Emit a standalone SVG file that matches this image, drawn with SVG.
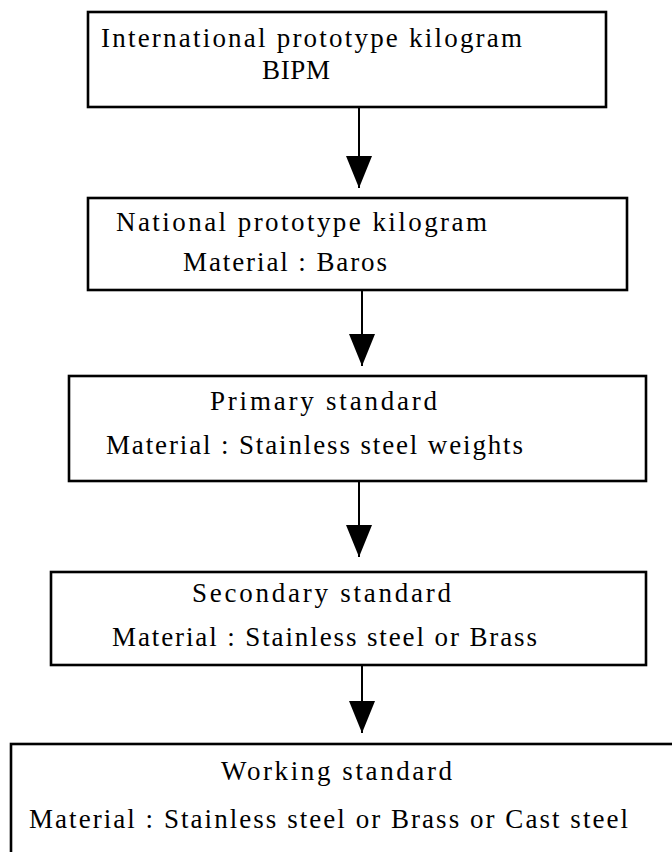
<svg xmlns="http://www.w3.org/2000/svg" width="672" height="852" viewBox="0 0 672 852">
  <style>
    .box { fill: #ffffff; stroke: #000000; stroke-width: 2.6; }
    .conn { stroke: #000000; stroke-width: 2; fill: none; }
    .t { font-family: "Liberation Serif", "Times New Roman", serif; font-size: 27px; fill: #000000; }
  </style>
  <defs>
    <marker id="arrow" markerUnits="userSpaceOnUse" markerWidth="32" markerHeight="26" refX="32" refY="13" orient="auto">
      <path d="M0,0 L32,13 L0,26 Z" fill="#000000"/>
    </marker>
  </defs>
  <rect x="0" y="0" width="672" height="852" fill="#ffffff"/>
  <g id="connectors">
    <line class="conn" x1="359" y1="107" x2="359" y2="188" marker-end="url(#arrow)"/>
    <line class="conn" x1="362" y1="290" x2="362" y2="366" marker-end="url(#arrow)"/>
    <line class="conn" x1="359" y1="481" x2="359" y2="557" marker-end="url(#arrow)"/>
    <line class="conn" x1="362" y1="665" x2="362" y2="733" marker-end="url(#arrow)"/>
  </g>
  <g id="node-international">
    <rect class="box" x="88" y="12" width="518" height="95"/>
    <text class="t" x="101" y="47" textLength="421" lengthAdjust="spacing">International prototype kilogram</text>
    <text class="t" x="262" y="79" textLength="68" lengthAdjust="spacing">BIPM</text>
  </g>
  <g id="node-national">
    <rect class="box" x="88" y="198" width="539" height="92"/>
    <text class="t" x="116" y="231" textLength="371" lengthAdjust="spacing">National prototype kilogram</text>
    <text class="t" x="183" y="271" textLength="204" lengthAdjust="spacing">Material : Baros</text>
  </g>
  <g id="node-primary">
    <rect class="box" x="69" y="376" width="577" height="105"/>
    <text class="t" x="210" y="410" textLength="227" lengthAdjust="spacing">Primary standard</text>
    <text class="t" x="106" y="454" textLength="417" lengthAdjust="spacing">Material : Stainless steel weights</text>
  </g>
  <g id="node-secondary">
    <rect class="box" x="51" y="572" width="595" height="93"/>
    <text class="t" x="192" y="602" textLength="259" lengthAdjust="spacing">Secondary standard</text>
    <text class="t" x="112" y="646" textLength="425" lengthAdjust="spacing">Material : Stainless steel or Brass</text>
  </g>
  <g id="node-working">
    <rect class="box" x="11" y="744" width="680" height="130"/>
    <text class="t" x="221" y="780" textLength="231" lengthAdjust="spacing">Working standard</text>
    <text class="t" x="29" y="828" textLength="599" lengthAdjust="spacing">Material : Stainless steel or Brass or Cast steel</text>
  </g>
</svg>
